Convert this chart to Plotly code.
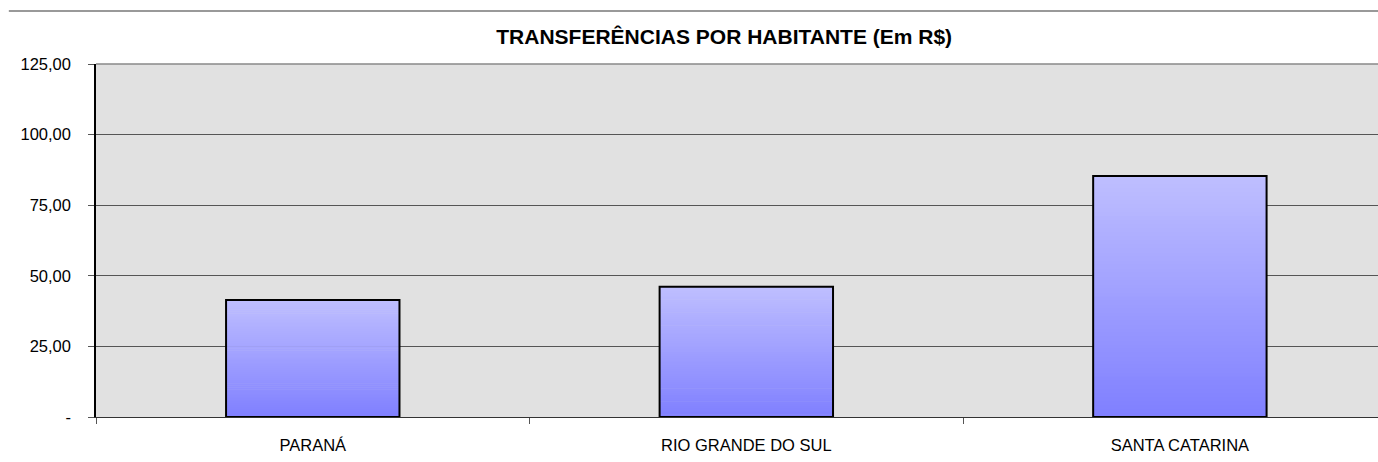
import plotly.graph_objects as go

categories = ["PARANÁ", "RIO GRANDE DO SUL", "SANTA CATARINA"]
values = [41.4, 46.1, 85.3]
tick_vals = [0, 25, 50, 75, 100, 125]
tick_text = ["-", "25,00", "50,00", "75,00", "100,00", "125,00"]
title = "TRANSFERÊNCIAS POR HABITANTE (Em R$)"

N = 60
top_rgb = (190, 190, 255)
bot_rgb = (128, 128, 255)

fig = go.Figure()
for i in range(N):
    t = i / (N - 1)
    r = round(bot_rgb[0] + (top_rgb[0] - bot_rgb[0]) * t)
    g = round(bot_rgb[1] + (top_rgb[1] - bot_rgb[1]) * t)
    b = round(bot_rgb[2] + (top_rgb[2] - bot_rgb[2]) * t)
    fig.add_trace(go.Bar(
        x=categories,
        y=[v / N * 1.3 for v in values],
        base=[v * i / N for v in values],
        width=0.4,
        marker=dict(color=f"rgb({r},{g},{b})", line=dict(width=0)),
        showlegend=False, hoverinfo="skip",
    ))
fig.add_trace(go.Bar(
    x=categories, y=values, width=0.4,
    marker=dict(color="rgba(0,0,0,0)", line=dict(color="black", width=2)),
    showlegend=False,
))

fig.update_layout(
    width=1378, height=462,
    margin=dict(l=96, r=0, t=64, b=45),
    barmode="overlay",
    paper_bgcolor="white",
    plot_bgcolor="#E1E1E1",
    font=dict(family="Liberation Sans, Arial, sans-serif", size=16.5, color="black"),
    title=dict(text="<b>" + title + "</b>", x=0.49, xref="paper", xanchor="center",
               y=1 - 37 / 462, yref="container", yanchor="middle", font=dict(size=21)),
    xaxis=dict(range=[-0.5, 2.457], showgrid=False, ticks="outside", tickson="boundaries",
               ticklen=6, tickcolor="#555", showline=True, linecolor="#333", linewidth=1,
               tickfont=dict(size=16.5), ticklabelstandoff=13),
    yaxis=dict(range=[0, 125], tickvals=tick_vals, ticktext=tick_text, showgrid=True,
               gridcolor="#555", gridwidth=1, ticks="outside", ticklen=6, tickcolor="#555",
               showline=True, linecolor="black", linewidth=1.5, zeroline=False,
               tickfont=dict(size=16.5), ticklabelstandoff=14),
    shapes=[
        dict(type="line", xref="paper", yref="paper", x0=-0.068, x1=1.0, y0=1.15, y1=1.15,
             line=dict(color="#777", width=1.5)),
        dict(type="line", xref="paper", yref="paper", x0=0, x1=1.0, y0=1.0, y1=1.0,
             line=dict(color="#888", width=1.5)),
    ],
)
fig.write_html("out.html", config={"displayModeBar": False},
               post_script="document.body.style.margin='0';document.body.style.overflow='hidden';")
